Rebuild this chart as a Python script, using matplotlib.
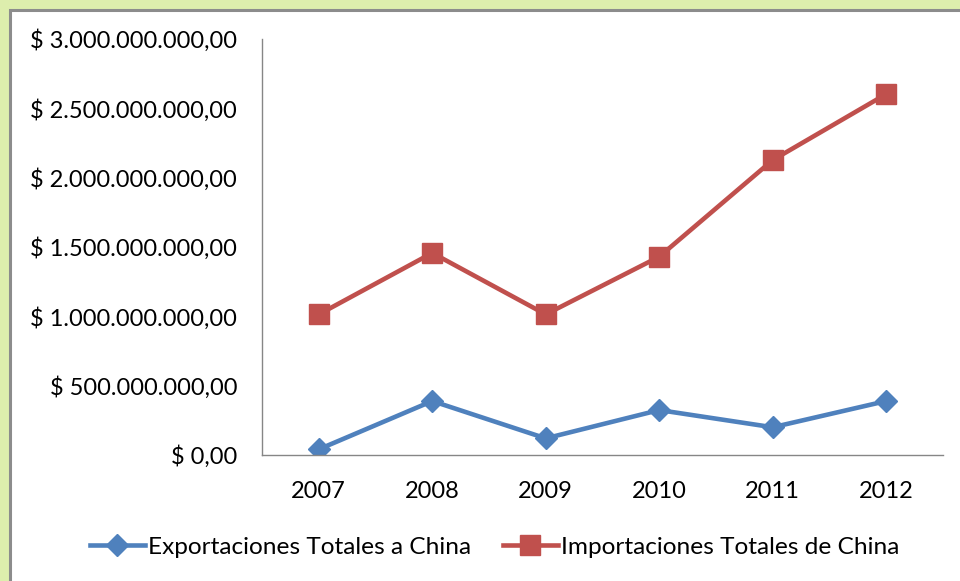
import matplotlib
matplotlib.use("Agg")
import matplotlib.pyplot as plt
from matplotlib.ticker import FuncFormatter, MultipleLocator
from matplotlib.patches import Rectangle

years = ["2007", "2008", "2009", "2010", "2011", "2012"]
exportaciones = [41e6, 389e6, 120e6, 324e6, 200e6, 389e6]
importaciones = [1014e6, 1457e6, 1014e6, 1430e6, 2127e6, 2603e6]
label_exp = "Exportaciones Totales a China"
label_imp = "Importaciones Totales de China"

plt.rcParams['font.family'] = ['Lato', 'DejaVu Sans']

fig = plt.figure(figsize=(9.6, 5.81), dpi=100)
fig.patch.set_facecolor('#ddeead')
# inner white chart area with gray border
fig.patches.append(Rectangle((10/960, -0.1), 1.2, (581-10)/581 + 0.1, transform=fig.transFigure,
                             facecolor='white', edgecolor='#8c8c8c', linewidth=2.2, zorder=-10))

ax = fig.add_axes([262/960, (581-455)/581, (943-262)/960, (455-39)/581])
ax.set_facecolor('none')
x = list(range(len(years)))
ax.plot(x, exportaciones, color='#4f81bd', linewidth=3.3, marker='D', markersize=11,
        label=label_exp, solid_joinstyle='round')
ax.plot(x, importaciones, color='#c0504d', linewidth=3.3, marker='s', markersize=15,
        label=label_imp, solid_joinstyle='round')

ax.set_xlim(-0.5, len(years) - 0.5)
ax.set_ylim(0, 3e9)
ax.yaxis.set_major_locator(MultipleLocator(5e8))

def fmt(v, pos):
    s = f"{v:,.2f}"
    s = s.replace(",", "X").replace(".", ",").replace("X", ".")
    return "$ " + s

ax.yaxis.set_major_formatter(FuncFormatter(fmt))
ax.set_xticks(x)
ax.set_xticklabels(years)
for s in ['top', 'right']:
    ax.spines[s].set_visible(False)
for s in ['left', 'bottom']:
    ax.spines[s].set_color('#868686')
    ax.spines[s].set_linewidth(1.0)
ax.tick_params(axis='both', length=0, labelsize=17, colors='black')
ax.tick_params(axis='y', pad=18)
ax.tick_params(axis='x', pad=19)

leg = fig.legend(loc='center', bbox_to_anchor=(0.515, (581-547)/581), ncol=2, frameon=False,
                 fontsize=17.6, handlelength=2.25, numpoints=1, columnspacing=1.3, handletextpad=0.12,
                 markerscale=1.0)

fig.savefig('out.png', dpi=100, facecolor=fig.get_facecolor())
